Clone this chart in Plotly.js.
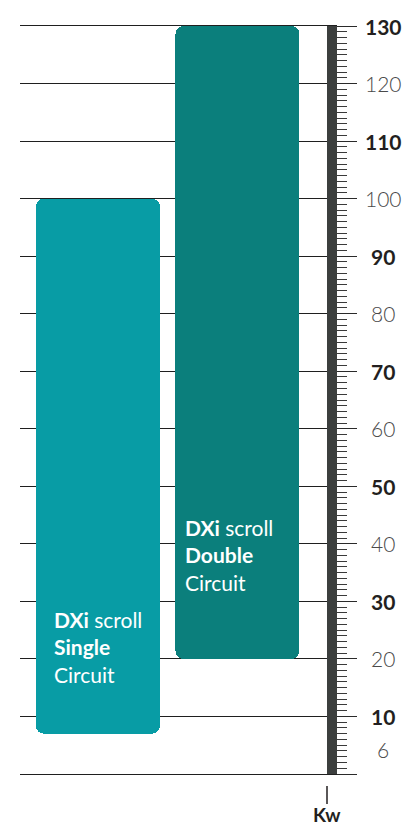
<!DOCTYPE html>
<html>
<head>
<meta charset="utf-8">
<script src="https://cdn.plot.ly/plotly-3.0.1.min.js"></script>
<style>html,body{margin:0;padding:0;background:#fff;}#chart{width:410px;height:826px;}</style>
</head>
<body>
<div id="chart"></div>
<script>
// ---- data ----
const categories = ["Single", "Double"];
const capacityMin = [7, 20];        // kW, bottom of range
const capacityMax = [100, 130];     // kW, top of range
const barLabelsLine2 = ["Single", "Double"];
const tickValues = [130, 120, 110, 100, 90, 80, 70, 60, 50, 40, 30, 20, 10, 6];
const tickTexts  = ["130","120","110","100","90","80","70","60","50","40","30","20","10","6"];
const tickBold   = [true,false,true,false,true,false,true,false,true,false,true,false,true,false];
const unitLabel = "Kw";

// ---- styles ----
const barColors = ["#089ca5", "#0b7f7c"];
const FONT = "Lato, 'Open Sans', sans-serif";
const H = 826, T = 26, B = 52;
const plotH = H - T - B;

const trace = {
  type: "bar",
  x: categories,
  y: capacityMax.map((v, i) => v - capacityMin[i]),
  base: capacityMin,
  width: 0.889,
  marker: { color: barColors, cornerradius: 8, line: { width: 0 } },
  hoverinfo: "skip",
  showlegend: false
};

const annotations = [];
// tick labels on the right
tickValues.forEach((v, i) => {
  annotations.push({
    xref: "paper", yref: "y", x: 1, y: v,
    xshift: 56, yshift: tickTexts[i] === "6" ? -10 : 0,
    xanchor: "center", yanchor: "middle", showarrow: false,
    text: tickBold[i] ? "<b>" + tickTexts[i] + "</b>" : tickTexts[i],
    font: { family: FONT, size: 21, color: tickBold[i] ? "#231f20" : "#4a4a4a", weight: tickBold[i] ? 700 : 300 }
  });
});
// bar labels
const labelY = [29.3, 45.4];
const labelShift = [-46, -54];
categories.forEach((c, i) => {
  annotations.push({
    xref: "x", yref: "y", x: c, y: labelY[i], xshift: labelShift[i],
    xanchor: "left", yanchor: "top", align: "left", showarrow: false,
    text: "<b>DXi</b> scroll<br><b>" + barLabelsLine2[i] + "</b><br>Circuit",
    font: { family: FONT, size: 21, color: "#ffffff" }
  });
});
// unit label
annotations.push({
  xref: "paper", yref: "paper", x: 1, y: -40 / plotH,
  xanchor: "center", yanchor: "middle", showarrow: false,
  text: "<b>" + unitLabel + "</b>",
  font: { family: FONT, size: 19, color: "#231f20" }
});

const layout = {
  width: 410, height: 826,
  margin: { l: 20, r: 83, t: T, b: B, pad: 0 },
  paper_bgcolor: "#ffffff", plot_bgcolor: "#ffffff",
  bargap: 0,
  xaxis: {
    type: "category", range: [-0.559, 1.642],
    showgrid: false, zeroline: false, showticklabels: false, ticks: "",
    showline: true, mirror: true, linecolor: "#1f1f1f", linewidth: 1, fixedrange: true
  },
  yaxis: {
    side: "right", range: [0, 130],
    tickmode: "linear", tick0: 0, dtick: 10,
    showgrid: true, gridcolor: "#1f1f1f", gridwidth: 1,
    zeroline: false,
    ticks: "outside", ticklen: 20, tickwidth: 1, tickcolor: "#2a2a2a",
    showticklabels: false,
    showline: true, linecolor: "#3c3f3e", linewidth: 10,
    minor: { dtick: 1, tick0: 0, ticks: "outside", ticklen: 10, tickwidth: 1, tickcolor: "#3a3a3a", showgrid: false },
    fixedrange: true
  },
  shapes: [
    { type: "line", xref: "paper", yref: "paper", x0: 1, x1: 1, y0: -12 / plotH, y1: -30 / plotH,
      line: { color: "#231f20", width: 1.5 } }
  ],
  annotations: annotations
};

Plotly.newPlot("chart", [trace], layout, { displayModeBar: false, staticPlot: true });
</script>
</body>
</html>
